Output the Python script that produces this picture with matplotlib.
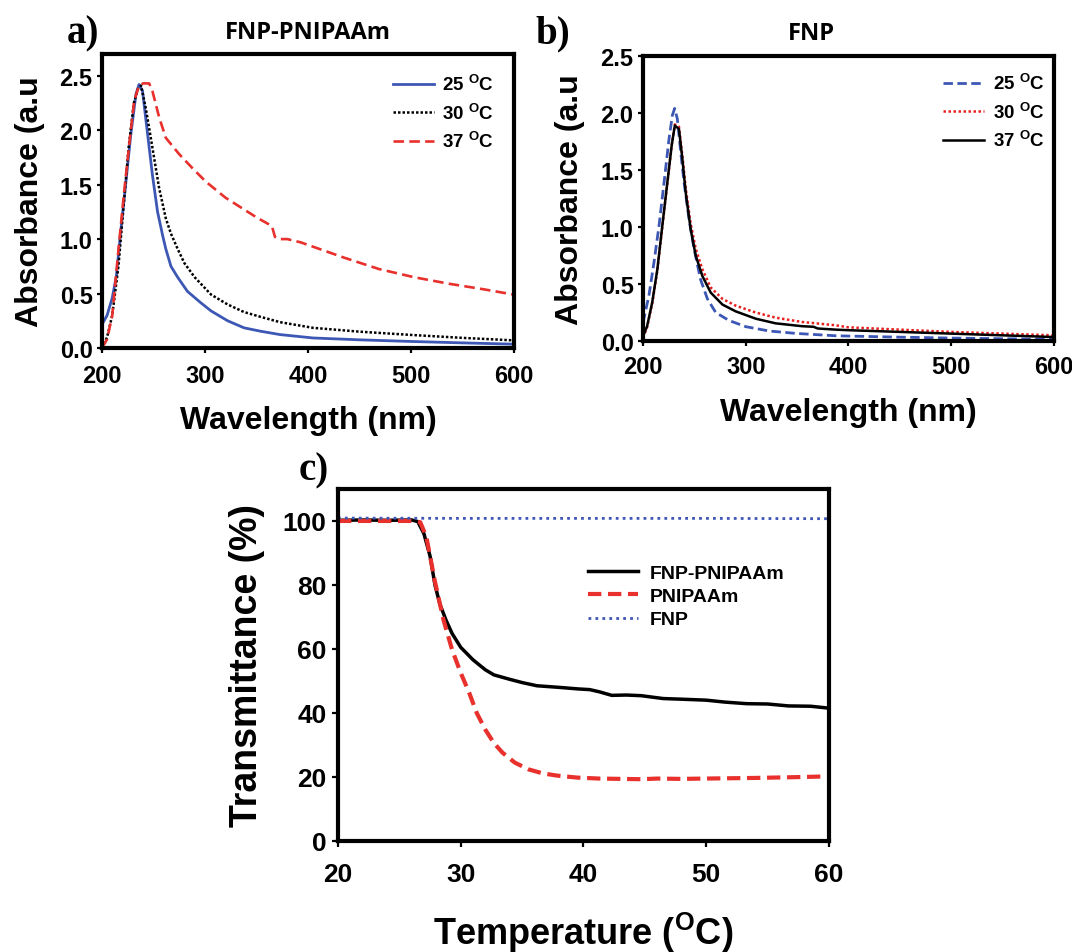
import numpy as np
import matplotlib
matplotlib.use('Agg')
import matplotlib.pyplot as plt

plt.rcParams['font.family'] = ['Liberation Sans', 'DejaVu Sans']
plt.rcParams['font.weight'] = 'bold'
plt.rcParams['mathtext.fontset'] = 'custom'
plt.rcParams['mathtext.rm'] = 'Liberation Sans:bold'
plt.rcParams['mathtext.bf'] = 'Liberation Sans:bold'
plt.rcParams['mathtext.it'] = 'Liberation Sans:bold'

# ---- panel a: FNP-PNIPAAm absorbance ----
wl_a25 = [200, 205, 210, 214, 218, 223, 228, 233, 236, 239.4, 244, 249, 254, 259, 262, 267,
          273.5, 283, 296, 306, 322, 338, 354, 373, 405, 450, 500, 550, 600]
abs_a25 = [0.215, 0.30, 0.46, 0.66, 1.05, 1.50, 1.96, 2.33, 2.42, 2.36, 1.99, 1.59, 1.25, 1.03, 0.91, 0.75,
           0.65, 0.52, 0.415, 0.34, 0.25, 0.185, 0.154, 0.123, 0.092, 0.075, 0.06, 0.047, 0.035]

wl_a30 = [200, 205, 210, 216, 221, 226, 231, 235, 238, 242.6, 249, 255.5, 262, 267, 273.5, 280,
          290, 306, 322, 338, 354, 373, 405, 450, 500, 550, 600]
abs_a30 = [0.0, 0.10, 0.30, 0.75, 1.30, 1.85, 2.25, 2.38, 2.41, 2.20, 1.84, 1.47, 1.19, 1.05, 0.91, 0.78,
           0.65, 0.49, 0.40, 0.33, 0.286, 0.237, 0.185, 0.15, 0.12, 0.093, 0.07]

wl_a37 = [200, 205, 210, 214, 217, 221.6, 226.5, 231.3, 236, 240, 245.8, 249, 255.5, 262, 275, 288,
          300.6, 320, 335, 350, 365, 368, 372, 380, 393, 405, 435, 469, 503, 537, 570, 600]
abs_a37 = [0.0, 0.08, 0.30, 0.70, 1.00, 1.44, 1.87, 2.27, 2.41, 2.43, 2.43, 2.36, 2.12, 1.93, 1.78, 1.65,
           1.53, 1.38, 1.29, 1.20, 1.12, 1.02, 1.00, 1.00, 0.97, 0.93, 0.83, 0.725, 0.65, 0.59, 0.54, 0.49]

# ---- panel b: FNP absorbance ----
wl_b25 = [200, 205.8, 210.7, 215.6, 220.5, 225.3, 228.6, 230.8, 233.4, 236.7, 240, 244.8, 249.7, 256,
          262.7, 270.8, 283.8, 300, 322.7, 348.7, 387.7, 450, 500, 550, 600]
abs_b25 = [0.16, 0.40, 0.69, 1.01, 1.39, 1.77, 1.98, 2.04, 1.95, 1.66, 1.39, 1.07, 0.81, 0.54,
           0.37, 0.25, 0.18, 0.126, 0.088, 0.067, 0.046, 0.034, 0.026, 0.02, 0.015]

wl_b30 = [200, 204, 209, 214, 218.8, 223.7, 228, 231, 235, 238.3, 241.6, 246.4, 251.3, 257.8, 265.9,
          277.3, 290.3, 309.7, 329, 355, 387.7, 400, 450, 500, 550, 600]
abs_b30 = [0.03, 0.12, 0.33, 0.62, 1.00, 1.38, 1.72, 1.90, 1.88, 1.63, 1.34, 1.03, 0.81, 0.63, 0.47,
           0.37, 0.31, 0.25, 0.205, 0.167, 0.138, 0.12, 0.10, 0.08, 0.065, 0.05]

wl_b37 = [200, 204, 209, 214, 218.8, 223.7, 228, 231, 235, 238.3, 241.6, 246.4, 251.3, 257.8, 265.9,
          277.3, 290.3, 309.7, 329.2, 355, 366, 370, 387.7, 400, 450, 500, 550, 600]
abs_b37 = [0.04, 0.13, 0.34, 0.63, 1.01, 1.39, 1.72, 1.89, 1.86, 1.60, 1.30, 0.98, 0.75, 0.57, 0.425,
           0.32, 0.26, 0.196, 0.155, 0.13, 0.125, 0.11, 0.10, 0.095, 0.08, 0.065, 0.05, 0.035]

# ---- panel c: transmittance vs temperature ----
t_fp = [20, 22, 24, 26, 26.5, 27, 27.5, 27.9, 28.3, 28.8, 29.3, 30, 31, 32, 32.7, 34, 35, 36.2, 38,
        39.6, 40.5, 41.3, 42.3, 43.5, 44.7, 46.5, 48, 50, 51.5, 53.3, 55, 56.7, 58.5, 60]
tr_fp = [100.2, 100.3, 100.2, 100.3, 99.8, 96, 89, 80, 74, 69, 64.8, 60.5, 56.6, 53.5, 51.9, 50.5, 49.5,
         48.5, 48.0, 47.5, 47.3, 46.6, 45.5, 45.6, 45.4, 44.5, 44.3, 44.0, 43.4, 42.9, 42.8, 42.2, 42.1, 41.5]

t_pn = [20, 24, 26, 26.7, 27.2, 27.9, 28.6, 29.3, 30, 30.7, 31.3, 32, 32.7, 33.4, 34.4, 35.5, 36.7,
        37.9, 39.5, 41.3, 43, 44.7, 46, 48, 49.9, 52, 54, 56.7, 58, 60]
tr_pn = [100.0, 100.0, 100.0, 99.6, 95, 81, 69, 59.7, 52.5, 46.2, 40, 34.8, 30.6, 27.6, 24.5, 22.4, 21.1,
         20.4, 19.8, 19.5, 19.4, 19.3, 19.5, 19.4, 19.5, 19.6, 19.7, 19.9, 20.0, 20.2]

t_fnp = [20, 30, 40, 50, 60]
tr_fnp = [100.9, 100.8, 100.8, 100.8, 100.7]

blue = '#3d57b5'
red = '#e8302c'

fig = plt.figure(figsize=(10.72, 9.53), dpi=100)
ax_a = fig.add_axes([0.0951, 0.6338, 0.3843, 0.3085])
ax_b = fig.add_axes([0.5998, 0.6411, 0.3834, 0.2991])
ax_c = fig.add_axes([0.3153, 0.1165, 0.4580, 0.3694])


def style(ax, tick_size, xpad, ypad, ticklen):
    for sp in ax.spines.values():
        sp.set_linewidth(3)
    ax.tick_params(direction='out', length=ticklen, width=1.6, labelsize=tick_size,
                   top=False, right=False)
    ax.tick_params(axis='x', pad=xpad)
    ax.tick_params(axis='y', pad=ypad)
    for lab in ax.get_xticklabels() + ax.get_yticklabels():
        lab.set_fontweight('bold')


# panel a
ax_a.plot(wl_a25, abs_a25, color=blue, lw=2, label=r'25 $^{\mathbf{O}}$C')
ax_a.plot(wl_a30, abs_a30, color='black', lw=1.8, linestyle=(0, (1, 0.8)), label=r'30 $^{\mathbf{O}}$C')
ax_a.plot(wl_a37, abs_a37, color=red, lw=1.9, linestyle=(0, (4, 2)), label=r'37 $^{\mathbf{O}}$C')
ax_a.set_xlim(200, 600)
ax_a.set_ylim(0, 2.7)
ax_a.set_xticks([200, 300, 400, 500, 600])
ax_a.set_yticks([0, 0.5, 1.0, 1.5, 2.0, 2.5])
ax_a.set_yticklabels(['0.0', '0.5', '1.0', '1.5', '2.0', '2.5'])
style(ax_a, 17, 8, 3, 3.8)
ax_a.set_xlabel('Wavelength (nm)', fontsize=23, fontweight='bold', va='center')
ax_a.xaxis.set_label_coords(0.5, -0.245)
ax_a.set_ylabel('Absorbance (a.u', fontsize=23, fontweight='bold', va='center')
ax_a.yaxis.set_label_coords(-0.175, 0.5)
ax_a.legend(loc='upper left', bbox_to_anchor=(0.706, 0.932), frameon=False, fontsize=13.5,
            handlelength=2.2, handletextpad=0.45, labelspacing=0.45, borderpad=0, borderaxespad=0)
ax_a.text(0.5, 1.075, 'FNP-PNIPAAm', transform=ax_a.transAxes, ha='center', va='center',
          fontsize=17, fontweight='bold', family=['Open Sans', 'DejaVu Sans'])

# panel b
ax_b.plot(wl_b25, abs_b25, color=blue, lw=2, linestyle=(0, (3.4, 1.6)), label=r'25 $^{\mathbf{O}}$C')
ax_b.plot(wl_b30, abs_b30, color='#e82020', lw=1.8, linestyle=(0, (1, 1)), label=r'30 $^{\mathbf{O}}$C')
ax_b.plot(wl_b37, abs_b37, color='black', lw=1.8, label=r'37 $^{\mathbf{O}}$C')
ax_b.set_xlim(200, 600)
ax_b.set_ylim(0, 2.5)
ax_b.set_xticks([200, 300, 400, 500, 600])
ax_b.set_yticks([0, 0.5, 1.0, 1.5, 2.0, 2.5])
ax_b.set_yticklabels(['0.0', '0.5', '1.0', '1.5', '2.0', '2.5'])
style(ax_b, 17, 6, 3, 3.8)
ax_b.set_xlabel('Wavelength (nm)', fontsize=23, fontweight='bold', va='center')
ax_b.xaxis.set_label_coords(0.5, -0.249)
ax_b.set_ylabel('Absorbance (a.u', fontsize=23, fontweight='bold', va='center')
ax_b.yaxis.set_label_coords(-0.178, 0.5)
ax_b.legend(loc='upper left', bbox_to_anchor=(0.730, 0.94), frameon=False, fontsize=13.5,
            handlelength=2.2, handletextpad=0.45, labelspacing=0.45, borderpad=0, borderaxespad=0)
ax_b.text(0.41, 1.08, 'FNP', transform=ax_b.transAxes, ha='center', va='center',
          fontsize=17, fontweight='bold', family=['Open Sans', 'DejaVu Sans'])

# panel c
ax_c.plot(t_fp, tr_fp, color='black', lw=2.5, label='FNP-PNIPAAm')
ax_c.plot(t_pn, tr_pn, color=red, lw=3, linestyle=(0, (3.2, 1.6)), label='PNIPAAm')
ax_c.plot(t_fnp, tr_fnp, color='#4055b5', lw=2, linestyle=(0, (1, 1.5)), label='FNP')
ax_c.set_xlim(20, 60)
ax_c.set_ylim(0, 110)
ax_c.set_xticks([20, 30, 40, 50, 60])
ax_c.set_yticks([0, 20, 40, 60, 80, 100])
style(ax_c, 19, 11, 4, 4.3)
ax_c.set_xlabel(r'Temperature ($^{\mathbf{O}}$C)', fontsize=26, fontweight='bold', va='center')
ax_c.xaxis.set_label_coords(0.5, -0.2585)
ax_c.set_ylabel('Transmittance (%)', fontsize=27, fontweight='bold', va='center')
ax_c.yaxis.set_label_coords(-0.185, 0.5)
ax_c.legend(loc='upper left', bbox_to_anchor=(0.509, 0.787), frameon=False, fontsize=14,
            handlelength=2.6, handletextpad=0.6, labelspacing=0.3, borderpad=0, borderaxespad=0)

# panel letters
serif = ['Liberation Serif', 'DejaVu Serif']
fig.text(67 / 1072, 1 - 43 / 953, 'a)', fontsize=28, fontweight='bold', family=serif, va='baseline')
fig.text(535 / 1072, 1 - 43 / 953, 'b)', fontsize=28, fontweight='bold', family=serif, va='baseline')
fig.text(299 / 1072, 1 - 480 / 953, 'c)', fontsize=28, fontweight='bold', family=serif, va='baseline')

fig.savefig('out.png', dpi=100)
